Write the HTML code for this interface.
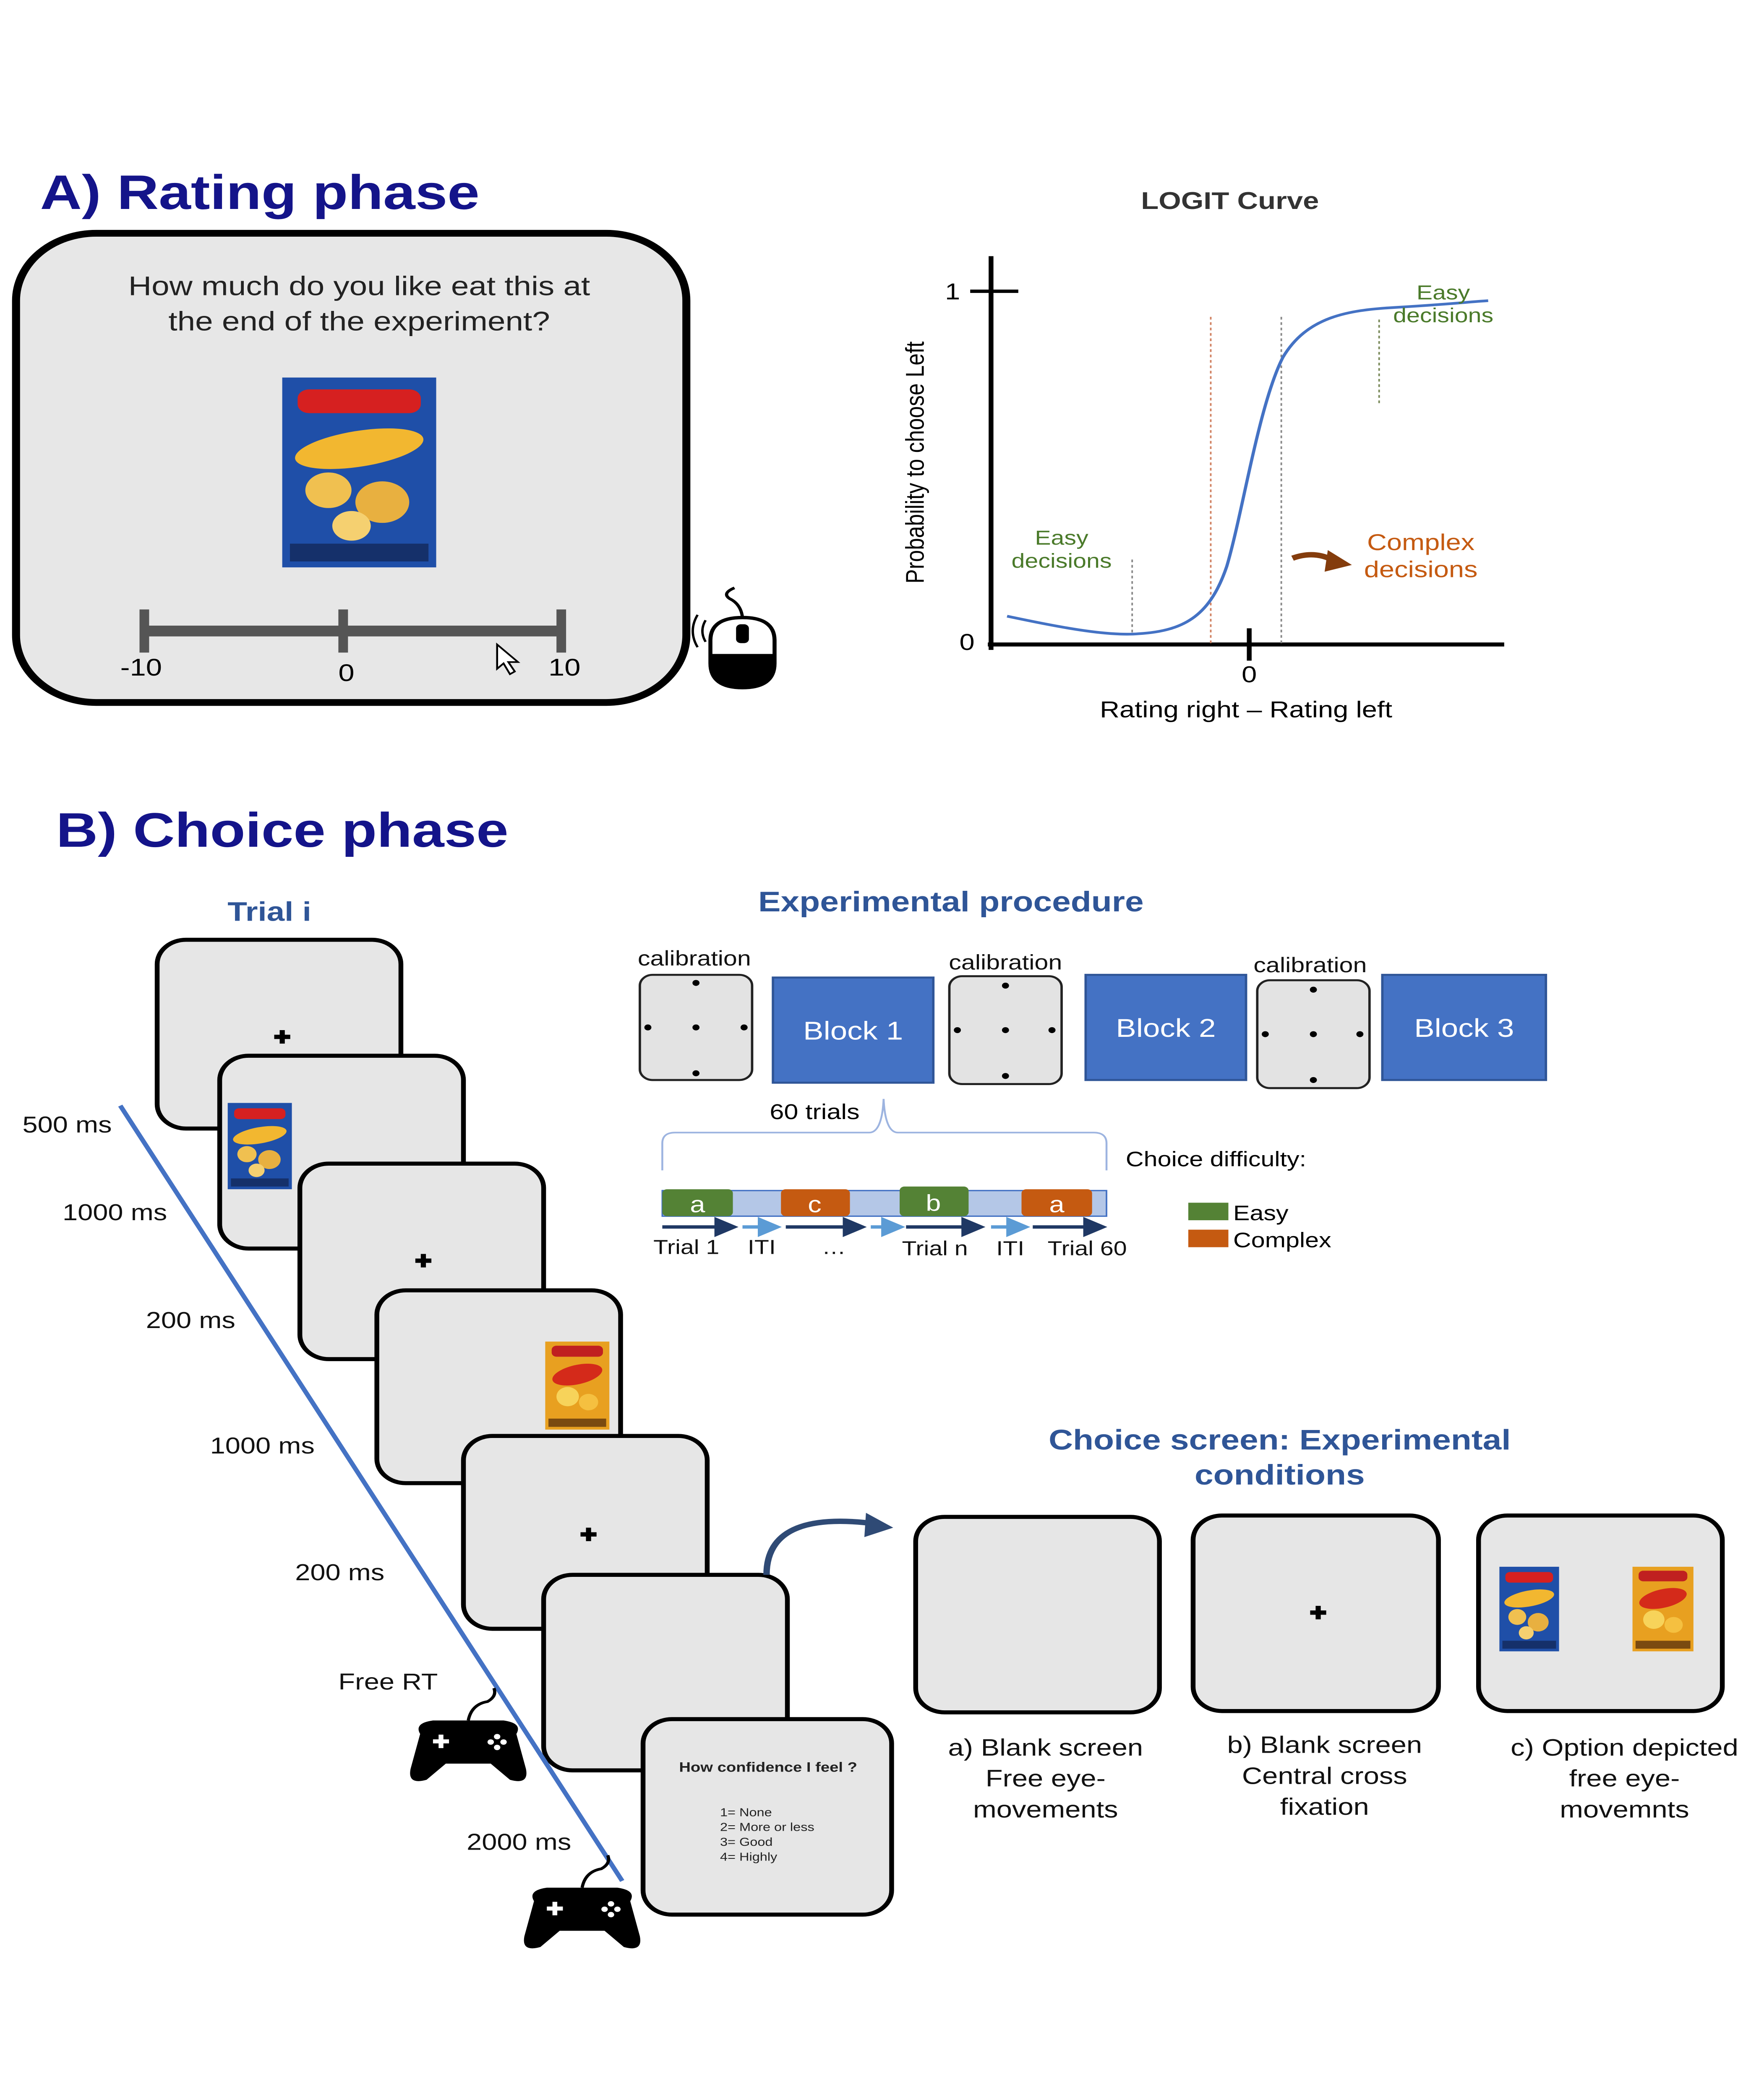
<!DOCTYPE html>
<html><head><meta charset="utf-8"><style>
html,body{margin:0;padding:0;background:#fff;width:100%;height:100%;overflow:hidden;}
svg{display:block;position:absolute;left:0;top:0;width:100vw;height:100vh;}
text{font-family:"Liberation Sans",Arial,sans-serif;}
</style></head><body>
<svg viewBox="0 0 1100 1556" preserveAspectRatio="none" xmlns="http://www.w3.org/2000/svg">
<defs>
<g id="bag1">
<rect x="0" y="0" width="40" height="64" fill="#1f4fa8"/>
<rect x="4" y="4" width="32" height="8" rx="3" fill="#d62020"/>
<ellipse cx="20" cy="24" rx="17" ry="6" fill="#f2b730" transform="rotate(-12 20 24)"/>
<circle cx="12" cy="38" r="6" fill="#f0c050"/><circle cx="26" cy="42" r="7" fill="#e8b040"/><circle cx="18" cy="50" r="5" fill="#f5d070"/>
<rect x="2" y="56" width="36" height="6" fill="#15306a"/>
</g>
<g id="bag2">
<rect x="0" y="0" width="40" height="64" fill="#e8a020"/>
<rect x="4" y="3" width="32" height="8" rx="3" fill="#c02020"/>
<ellipse cx="20" cy="24" rx="16" ry="7" fill="#d42a1a" transform="rotate(-15 20 24)"/>
<circle cx="14" cy="40" r="7" fill="#f7d35a"/><circle cx="27" cy="44" r="6" fill="#f5c040"/>
<rect x="2" y="56" width="36" height="6" fill="#7a4a10"/>
</g>
<g id="pad">
<path d="M-30,-12 Q-34,-20 -22,-22 L22,-22 Q34,-20 30,-12 L36,14 Q38,26 26,22 L14,10 L-14,10 L-26,22 Q-38,26 -36,14 Z" fill="#000"/>
<rect x="-22" y="-8" width="10" height="3" fill="#fff"/><rect x="-18.5" y="-11.5" width="3" height="10" fill="#fff"/>
<circle cx="18" cy="-10" r="2" fill="#fff"/><circle cx="18" cy="-2" r="2" fill="#fff"/><circle cx="14" cy="-6" r="2" fill="#fff"/><circle cx="22" cy="-6" r="2" fill="#fff"/>
<path d="M0,-22 Q2,-34 12,-36 Q18,-40 16,-46" fill="none" stroke="#000" stroke-width="2"/>
</g>
<g id="cross"><rect x="-5" y="-1.6" width="10" height="3.2"/><rect x="-1.6" y="-5" width="3.2" height="10"/></g>
<marker id="ah" markerWidth="6" markerHeight="6" refX="5" refY="3" orient="auto"><path d="M0,0 L6,3 L0,6 Z" fill="#1f3864"/></marker>
<marker id="ahl" markerWidth="6" markerHeight="6" refX="5" refY="3" orient="auto"><path d="M0,0 L6,3 L0,6 Z" fill="#5b9bd5"/></marker>
</defs>

<!-- A) -->
<text x="25" y="155" font-size="36" font-weight="bold" fill="#14148a">A) Rating phase</text>
<rect x="10" y="173" width="418" height="348" rx="50" fill="#e7e7e7" stroke="#000" stroke-width="5"/>
<text x="224" y="219" font-size="20" text-anchor="middle" fill="#222">How much do you like eat this at</text>
<text x="224" y="245" font-size="20" text-anchor="middle" fill="#222">the end of the experiment?</text>
<g transform="translate(176,280) scale(2.4,2.2)"><use href="#bag1"/></g>
<rect x="90" y="464" width="260" height="8" fill="#555"/>
<rect x="87" y="452" width="6" height="32" fill="#555"/><rect x="211" y="452" width="6" height="32" fill="#555"/><rect x="347" y="452" width="6" height="32" fill="#555"/>
<text x="88" y="501" font-size="18" text-anchor="middle">-10</text>
<text x="216" y="505" font-size="18" text-anchor="middle">0</text>
<text x="352" y="501" font-size="18" text-anchor="middle">10</text>
<path d="M310,478 L310,496 L314,492 L318,500 L321,498 L317,491 L323,491 Z" fill="#fff" stroke="#000" stroke-width="1.2"/>
<g>
<path d="M443,475 Q443,458 463,458 Q483,458 483,475 L483,492 Q483,510 463,510 Q443,510 443,492 Z" fill="#fff" stroke="#000" stroke-width="2.5"/>
<path d="M443,485 L483,485 L483,492 Q483,510 463,510 Q443,510 443,492 Z" fill="#000"/>
<rect x="459" y="463" width="8" height="14" rx="3" fill="#000"/>
<path d="M463,458 Q462,448 455,444 Q450,440 458,436" fill="none" stroke="#000" stroke-width="2"/>
<path d="M440,460 Q436,468 440,476 M435,456 Q429,468 435,480" fill="none" stroke="#000" stroke-width="1.5"/>
</g>

<!-- LOGIT -->
<text x="767" y="155" font-size="18" font-weight="bold" text-anchor="middle" fill="#333">LOGIT Curve</text>
<line x1="618" y1="190" x2="618" y2="482" stroke="#000" stroke-width="3"/>
<line x1="616" y1="478" x2="938" y2="478" stroke="#000" stroke-width="3"/>
<line x1="605" y1="216" x2="635" y2="216" stroke="#000" stroke-width="2.5"/>
<line x1="779" y1="466" x2="779" y2="490" stroke="#000" stroke-width="3"/>
<text x="594" y="222" font-size="17" text-anchor="middle">1</text>
<text x="603" y="482" font-size="17" text-anchor="middle">0</text>
<text x="779" y="506" font-size="17" text-anchor="middle">0</text>
<text x="777" y="532" font-size="17" text-anchor="middle">Rating right – Rating left</text>
<text transform="translate(576,343) rotate(-90)" font-size="16" text-anchor="middle">Probability to choose Left</text>
<line x1="706" y1="415" x2="706" y2="470" stroke="#888" stroke-width="1" stroke-dasharray="2,2"/>
<line x1="755" y1="235" x2="755" y2="478" stroke="#d08060" stroke-width="1" stroke-dasharray="2,2"/>
<line x1="799" y1="235" x2="799" y2="478" stroke="#888" stroke-width="1" stroke-dasharray="2,2"/>
<line x1="860" y1="237" x2="860" y2="300" stroke="#7a8a5a" stroke-width="1" stroke-dasharray="2,2"/>
<path d="M628,457 C660,465 690,472 710,470 C740,468 755,455 765,420 C775,380 785,300 800,265 C815,235 840,230 870,228 C900,226 915,224 928,223" fill="none" stroke="#4472c4" stroke-width="2"/>
<text x="662" y="404" font-size="15" text-anchor="middle" fill="#4a7a2a">Easy</text>
<text x="662" y="421" font-size="15" text-anchor="middle" fill="#4a7a2a">decisions</text>
<text x="900" y="222" font-size="15" text-anchor="middle" fill="#4a7a2a">Easy</text>
<text x="900" y="239" font-size="15" text-anchor="middle" fill="#4a7a2a">decisions</text>
<text x="886" y="408" font-size="17" text-anchor="middle" fill="#c55a11">Complex</text>
<text x="886" y="428" font-size="17" text-anchor="middle" fill="#c55a11">decisions</text>
<path d="M806,414 Q820,408 832,416" fill="none" stroke="#843c0c" stroke-width="4"/>
<path d="M828,408 L843,419 L826,424 Z" fill="#843c0c"/>

<!-- B) -->
<text x="35" y="628" font-size="36" font-weight="bold" fill="#14148a">B) Choice phase</text>
<text x="168" y="683" font-size="20" font-weight="bold" text-anchor="middle" fill="#2f5597">Trial i</text>
<text x="593" y="676" font-size="21" font-weight="bold" text-anchor="middle" fill="#2f5597">Experimental procedure</text>

<g fill="#e6e6e6" stroke="#000" stroke-width="3">
<rect x="98" y="697" width="152" height="140" rx="18"/>
<rect x="137" y="783" width="152" height="143" rx="18"/>
<rect x="187" y="863" width="152" height="145" rx="18"/>
<rect x="235" y="957" width="152" height="143" rx="18"/>
<rect x="289" y="1065" width="152" height="143" rx="18"/>
<rect x="339" y="1168" width="152" height="145" rx="18"/>
<rect x="401" y="1275" width="155" height="145" rx="18"/>
</g>
<use href="#cross" transform="translate(176,769)"/>
<use href="#cross" transform="translate(264,935)"/>
<use href="#cross" transform="translate(367,1138)"/>
<g transform="translate(142,818)"><use href="#bag1"/></g>
<g transform="translate(340,995) scale(1,1.02)"><use href="#bag2"/></g>
<text x="479" y="1314" font-size="10" font-weight="bold" text-anchor="middle" fill="#222">How confidence I feel ?</text>
<text x="449" y="1347" font-size="8.5" fill="#222">1= None</text>
<text x="449" y="1358" font-size="8.5" fill="#222">2= More or less</text>
<text x="449" y="1369" font-size="8.5" fill="#222">3= Good</text>
<text x="449" y="1380" font-size="8.5" fill="#222">4= Highly</text>

<line x1="75" y1="820" x2="388" y2="1395" stroke="#4472c4" stroke-width="3"/>
<g font-size="17" fill="#111">
<text x="14" y="840">500 ms</text>
<text x="39" y="905">1000 ms</text>
<text x="91" y="985">200 ms</text>
<text x="131" y="1078">1000 ms</text>
<text x="184" y="1172">200 ms</text>
<text x="211" y="1253">Free RT</text>
<text x="291" y="1372">2000 ms</text>
</g>
<use href="#pad" transform="translate(292,1298)"/>
<use href="#pad" transform="translate(363,1422)"/>

<!-- procedure -->
<g font-size="15.5" text-anchor="middle" fill="#111">
<text x="433" y="716">calibration</text><text x="627" y="719">calibration</text><text x="817" y="721">calibration</text>
</g>
<g fill="#e3e3e3" stroke="#222" stroke-width="1.5">
<rect x="399" y="723" width="70" height="78" rx="8"/>
<rect x="592" y="724" width="70" height="80" rx="8"/>
<rect x="784" y="727" width="70" height="80" rx="8"/>
</g>
<g fill="#000">
<circle cx="434" cy="729" r="2.2"/><circle cx="434" cy="762" r="2.2"/><circle cx="434" cy="796" r="2.2"/><circle cx="404" cy="762" r="2.2"/><circle cx="464" cy="762" r="2.2"/>
<circle cx="627" cy="731" r="2.2"/><circle cx="627" cy="764" r="2.2"/><circle cx="627" cy="798" r="2.2"/><circle cx="597" cy="764" r="2.2"/><circle cx="656" cy="764" r="2.2"/>
<circle cx="819" cy="734" r="2.2"/><circle cx="819" cy="767" r="2.2"/><circle cx="819" cy="801" r="2.2"/><circle cx="789" cy="767" r="2.2"/><circle cx="848" cy="767" r="2.2"/>
</g>
<g fill="#4472c4" stroke="#2f5597" stroke-width="1.5">
<rect x="482" y="725" width="100" height="78"/>
<rect x="677" y="723" width="100" height="78"/>
<rect x="862" y="723" width="102" height="78"/>
</g>
<g font-size="19" fill="#fff" text-anchor="middle">
<text x="532" y="771">Block 1</text><text x="727" y="769">Block 2</text><text x="913" y="769">Block 3</text>
</g>
<text x="508" y="830" font-size="16" text-anchor="middle">60 trials</text>
<path d="M413,868 L413,848 Q413,840 421,840 L542,840 Q550,840 551,815 Q552,840 560,840 L682,840 Q690,840 690,848 L690,868" fill="none" stroke="#9db4e0" stroke-width="1.2"/>
<rect x="413" y="883" width="277" height="19" fill="#b4c7e7" stroke="#4472c4" stroke-width="1"/>
<rect x="413" y="882" width="44" height="20" rx="3" fill="#548235"/>
<rect x="487" y="882" width="43" height="20" rx="3" fill="#c55a11"/>
<rect x="561" y="880" width="43" height="22" rx="3" fill="#548235"/>
<rect x="637" y="882" width="44" height="20" rx="3" fill="#c55a11"/>
<g font-size="17" fill="#fff" text-anchor="middle"><text x="435" y="899">a</text><text x="508" y="899">c</text><text x="582" y="898">b</text><text x="659" y="899">a</text></g>
<g stroke-width="2.5">
<line x1="413" y1="910" x2="458" y2="910" stroke="#1f3864" marker-end="url(#ah)"/>
<line x1="463" y1="910" x2="485" y2="910" stroke="#5b9bd5" marker-end="url(#ahl)"/>
<line x1="490" y1="910" x2="538" y2="910" stroke="#1f3864" marker-end="url(#ah)"/>
<line x1="543" y1="910" x2="562" y2="910" stroke="#5b9bd5" marker-end="url(#ahl)"/>
<line x1="565" y1="910" x2="612" y2="910" stroke="#1f3864" marker-end="url(#ah)"/>
<line x1="618" y1="910" x2="640" y2="910" stroke="#5b9bd5" marker-end="url(#ahl)"/>
<line x1="644" y1="910" x2="688" y2="910" stroke="#1f3864" marker-end="url(#ah)"/>
</g>
<g font-size="15" text-anchor="middle" fill="#111">
<text x="428" y="930">Trial 1</text><text x="475" y="930">ITI</text><text x="520" y="930">…</text><text x="583" y="931">Trial n</text><text x="630" y="931">ITI</text><text x="678" y="931">Trial 60</text>
</g>
<text x="702" y="865" font-size="15.5">Choice difficulty:</text>
<rect x="741" y="892" width="25" height="13" fill="#548235"/><text x="769" y="905" font-size="15.5">Easy</text>
<rect x="741" y="912" width="25" height="13" fill="#c55a11"/><text x="769" y="925" font-size="15.5">Complex</text>

<!-- choice screen -->
<text x="798" y="1075" font-size="21" font-weight="bold" text-anchor="middle" fill="#2f5597">Choice screen: Experimental</text>
<text x="798" y="1101" font-size="21" font-weight="bold" text-anchor="middle" fill="#2f5597">conditions</text>
<path d="M478,1168 Q478,1120 545,1130" fill="none" stroke="#2f4a75" stroke-width="4"/>
<path d="M540,1122 L557,1133 L539,1140 Z" fill="#2f4a75"/>
<g fill="#e6e6e6" stroke="#000" stroke-width="3">
<rect x="571" y="1125" width="152" height="145" rx="18"/>
<rect x="744" y="1124" width="153" height="145" rx="18"/>
<rect x="922" y="1124" width="152" height="145" rx="18"/>
</g>
<use href="#cross" transform="translate(822,1196)"/>
<g transform="translate(935,1162) scale(0.93,0.98)"><use href="#bag1"/></g>
<g transform="translate(1018,1162) scale(0.95,0.98)"><use href="#bag2"/></g>
<g font-size="17.5" text-anchor="middle" fill="#111">
<text x="652" y="1302">a) Blank screen</text><text x="652" y="1325">Free eye-</text><text x="652" y="1348">movements</text>
<text x="826" y="1300">b) Blank screen</text><text x="826" y="1323">Central cross</text><text x="826" y="1346">fixation</text>
<text x="1013" y="1302">c) Option depicted</text><text x="1013" y="1325">free eye-</text><text x="1013" y="1348">movemnts</text>
</g>
</svg>
</body></html>
